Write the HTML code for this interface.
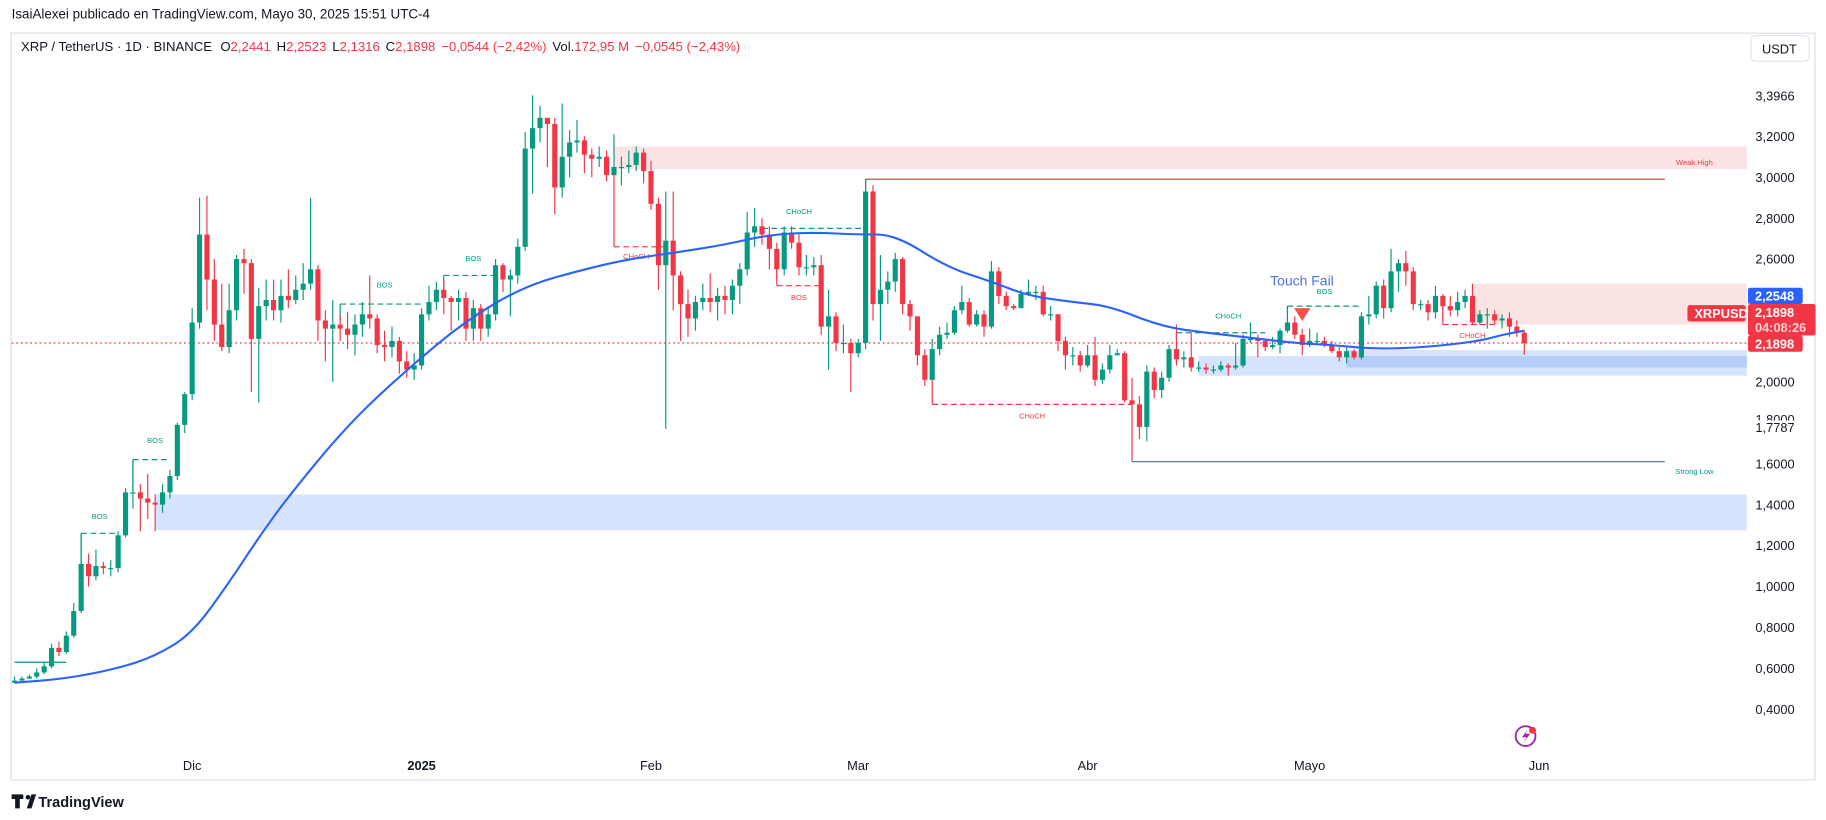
<!DOCTYPE html>
<html><head><meta charset="utf-8"><style>
html,body{margin:0;padding:0;background:#fff;}
svg{display:block;font-family:"Liberation Sans",sans-serif;}
</style></head><body>
<svg id="chart" width="1826" height="820" viewBox="0 0 1568 704" preserveAspectRatio="none" xmlns="http://www.w3.org/2000/svg">
<rect x="0" y="0" width="1568" height="704" fill="#ffffff"/>
<text x="10" y="16" font-size="11.5" fill="#131722">IsaiAlexei publicado en TradingView.com, Mayo 30, 2025 15:51 UTC-4</text>
<rect x="9.5" y="28.5" width="1549" height="641" fill="#fff" stroke="#e6e8ee" stroke-width="1.5"/>
<text x="18" y="44" font-size="11.3" fill="#131722">XRP / TetherUS · 1D · BINANCE <tspan dx="4">O</tspan><tspan fill="#f23645">2,2441</tspan><tspan dx="5">H</tspan><tspan fill="#f23645">2,2523</tspan><tspan dx="5">L</tspan><tspan fill="#f23645">2,1316</tspan><tspan dx="5">C</tspan><tspan fill="#f23645">2,1898</tspan><tspan dx="5" fill="#f23645">−0,0544 (−2,42%)</tspan><tspan dx="5">Vol.</tspan><tspan fill="#f23645">172,95 M</tspan><tspan dx="5" fill="#f23645">−0,0545 (−2,43%)</tspan></text>
<g><rect x="1503.5" y="30.5" width="50" height="22" rx="4" fill="#fff" stroke="#e0e3eb"/><text x="1528" y="46" font-size="11" text-anchor="middle" fill="#131722">USDT</text></g>
<g id="zones"></g>
<g id="marks"></g>
<g id="candles"></g>
<g id="ma"></g>
<g id="axis"></g>
<g><circle cx="1310" cy="632" r="8.5" fill="none" stroke="#9c27b0" stroke-width="1.6"/><path d="M1312 626 L1307 633 L1311 633 L1308 638 L1314 630 L1310 630 Z" fill="#9c27b0"/><circle cx="1316" cy="627" r="3" fill="#f23645"/></g>
<g><path d="M10 682 h10 v4 h-3 v8 h-4 v-8 h-3 z" fill="#131722"/><circle cx="24" cy="684.5" r="2" fill="#131722"/><path d="M23 694 l4 -12 h4 l-4 12 z" fill="#131722"/><text x="33" y="693" font-size="12.5" fill="#131722" font-weight="bold">TradingView</text></g>
</svg>
<script>
const closes=[0.54,0.55,0.56,0.58,0.61,0.70,0.68,0.76,0.88,1.11,1.05,1.10,1.09,1.09,1.25,1.46,1.46,1.43,1.41,1.40,1.46,1.54,1.79,1.94,
2.29,2.72,2.50,2.28,2.17,2.35,2.60,2.58,2.21,2.37,2.40,2.35,2.42,2.40,2.45,2.48,2.55,2.30,2.26,2.28,2.26,2.23,2.28,2.33,2.31,2.18,2.17,2.20,2.10,2.06,2.08,
2.33,2.39,2.45,2.41,2.39,2.41,2.26,2.36,2.26,2.33,2.57,2.50,2.52,2.66,3.14,3.24,3.29,3.26,2.95,3.10,3.17,3.18,3.11,3.09,3.10,3.01,3.05,3.05,3.06,3.12,3.03,
2.87,2.57,2.69,2.52,2.38,2.31,2.39,2.41,2.39,2.42,2.40,2.47,2.55,2.73,2.76,2.72,2.65,2.55,2.73,2.68,2.56,2.56,2.57,2.27,2.32,2.19,2.19,2.14,
2.19,2.93,2.38,2.45,2.49,2.60,2.38,2.32,2.13,2.01,2.16,2.23,2.24,2.35,2.39,2.28,2.33,2.27,2.54,2.42,2.37,2.36,2.43,2.44,2.44,2.33,2.33,2.20,2.13,2.13,2.08,
2.13,2.01,2.06,2.13,2.14,1.91,1.89,1.78,2.05,1.96,2.02,2.16,2.11,2.12,2.07,2.07,2.06,2.06,2.08,2.07,2.08,2.21,2.21,2.20,2.17,2.18,2.25,2.29,2.23,2.18,
2.20,2.20,2.18,2.15,2.12,2.15,2.12,2.32,2.33,2.47,2.36,2.54,2.58,2.54,2.38,2.38,2.34,2.42,2.37,2.35,2.39,2.42,2.29,2.33,2.33,2.30,2.31,2.27,2.24,2.1898];
const highs=[0.56,0.56,0.57,0.60,0.63,0.72,0.73,0.78,0.92,1.26,1.16,1.18,1.12,1.13,1.27,1.48,1.62,1.50,1.55,1.45,1.50,1.57,1.80,1.95,
2.36,2.90,2.91,2.60,2.48,2.48,2.62,2.65,2.60,2.46,2.50,2.50,2.50,2.55,2.52,2.58,2.90,2.57,2.35,2.40,2.33,2.34,2.33,2.39,2.52,2.33,2.25,2.27,2.22,2.15,2.14,
2.36,2.47,2.49,2.50,2.42,2.45,2.44,2.40,2.38,2.37,2.60,2.58,2.55,2.70,3.22,3.40,3.35,3.29,3.29,3.36,3.23,3.28,3.20,3.14,3.15,3.13,3.21,3.10,3.13,3.15,3.14,
3.08,2.90,2.93,2.93,2.54,2.45,2.42,2.48,2.53,2.46,2.47,2.50,2.58,2.83,2.85,2.80,2.76,2.68,2.76,2.76,2.72,2.62,2.61,2.62,2.45,2.34,2.28,2.21,
2.21,2.99,2.96,2.62,2.54,2.63,2.61,2.40,2.32,2.16,2.21,2.27,2.29,2.37,2.47,2.41,2.35,2.35,2.59,2.56,2.44,2.38,2.45,2.50,2.47,2.47,2.37,2.33,2.22,2.17,2.15,
2.18,2.22,2.09,2.18,2.16,2.15,2.02,1.93,2.08,2.07,2.05,2.18,2.28,2.15,2.24,2.10,2.09,2.08,2.10,2.09,2.19,2.23,2.29,2.23,2.21,2.22,2.26,2.37,2.32,2.26,
2.26,2.24,2.22,2.20,2.17,2.17,2.16,2.34,2.42,2.49,2.50,2.65,2.60,2.64,2.56,2.40,2.40,2.47,2.43,2.42,2.44,2.45,2.48,2.35,2.36,2.35,2.33,2.34,2.30,2.2523];
const lows=[0.53,0.54,0.55,0.55,0.57,0.60,0.66,0.67,0.75,0.87,1.00,1.03,1.06,1.05,1.07,1.24,1.38,1.27,1.33,1.27,1.36,1.43,1.52,1.75,
1.91,2.26,2.35,2.20,2.15,2.14,2.30,2.43,1.95,1.90,2.30,2.30,2.29,2.36,2.38,2.40,2.45,2.20,2.10,2.00,2.20,2.16,2.13,2.22,2.26,2.14,2.10,2.12,2.04,2.02,2.01,
2.06,2.30,2.35,2.33,2.25,2.30,2.20,2.20,2.20,2.22,2.30,2.44,2.32,2.48,2.64,2.92,3.17,3.05,2.82,2.90,3.00,3.12,3.02,3.00,3.05,2.98,3.01,2.96,3.02,3.03,2.97,
2.84,2.45,1.77,2.35,2.20,2.22,2.25,2.35,2.34,2.30,2.33,2.33,2.38,2.52,2.66,2.67,2.55,2.50,2.52,2.65,2.52,2.52,2.52,2.23,2.06,2.15,2.14,1.95,
2.12,2.16,2.30,2.20,2.38,2.44,2.33,2.25,2.08,1.98,2.01,2.13,2.21,2.23,2.33,2.27,2.27,2.22,2.26,2.38,2.35,2.35,2.36,2.42,2.40,2.32,2.30,2.15,2.06,2.08,2.05,
2.07,1.98,1.99,2.04,2.13,1.90,1.61,1.72,1.71,1.92,1.92,2.00,2.08,2.07,2.05,2.05,2.04,2.04,2.05,2.03,2.06,2.07,2.19,2.12,2.15,2.16,2.14,2.24,2.21,2.13,
2.17,2.18,2.17,2.14,2.10,2.09,2.11,2.11,2.28,2.31,2.31,2.34,2.44,2.47,2.35,2.35,2.30,2.31,2.30,2.32,2.32,2.36,2.28,2.28,2.26,2.28,2.26,2.22,2.22,2.1316];
const firstOpen=0.53;
const firstDay=-24;
const maDays=[-24,-17,-10,-5,0,5,9,13,21,29,37,45,53,59,65,72,78,84,90,95,102,108,113,119,124,131,137,142,149,154,160,167,174,177,180];
const maValues=[0.53,0.55,0.60,0.66,0.77,1.02,1.24,1.44,1.79,2.06,2.30,2.47,2.55,2.60,2.63,2.67,2.72,2.73,2.72,2.72,2.56,2.49,2.42,2.39,2.37,2.27,2.24,2.22,2.19,2.18,2.16,2.17,2.20,2.23,2.25];
const yTicks=[3.2,3.0,2.8,2.6,2.0,1.6,1.4,1.2,1.0,0.8,0.6,0.4];
const yTickLabels=["3,2000","3,0000","2,8000","2,6000","2,0000","1,6000","1,4000","1,2000","1,0000","0,8000","0,6000","0,4000"];
const xTickDays=[0,31,62,90,121,151,182];
const xTickLabels=["Dic","2025","Feb","Mar","Abr","Mayo","Jun"];
const lastPrice=2.1898, prevHighPrice=2.2548, topPrice=3.3966, lowPrice2=1.7787;

const NS="http://www.w3.org/2000/svg";
const X=d=>165+d*6.355;
const Y=p=>117+(3.2-p)*175.7;
function mk(parent,tag,attrs){const e=document.createElementNS(NS,tag);for(const k in attrs)e.setAttribute(k,attrs[k]);document.getElementById(parent).appendChild(e);return e;}
const PR=1500;
const G="#089981",R="#f23645";

let z;
z=mk('zones','rect',{x:X(57),y:Y(3.15),width:PR-X(57),height:Y(3.04)-Y(3.15),fill:'#fce3e4'});


z=mk('zones','rect',{x:X(173),y:Y(2.48),width:PR-X(173),height:Y(2.28)-Y(2.48),fill:'#fce3e4'});


z=mk('zones','rect',{x:X(136),y:Y(2.126),width:PR-X(136),height:Y(2.03)-Y(2.126),fill:'#d6e3fc'});


z=mk('zones','rect',{x:X(156),y:Y(2.155),width:PR-X(156),height:Y(2.07)-Y(2.155),fill:'#d6e3fc'});


z=mk('zones','rect',{x:X(156),y:Y(2.126),width:PR-X(156),height:Y(2.07)-Y(2.126),fill:'#b6cdf8'});


z=mk('zones','rect',{x:X(-5),y:Y(1.45),width:PR-X(-5),height:Y(1.275)-Y(1.45),fill:'#d6e3fc'});



function hline(name,d1,d2,p,color,dash,label,lx,ly,vd,vp){
  const g=document.createElementNS(NS,'g');
  
  
  document.getElementById('marks').appendChild(g);
  const l=document.createElementNS(NS,'line');
  l.setAttribute('x1',X(d1));l.setAttribute('x2',X(d2));l.setAttribute('y1',Y(p));l.setAttribute('y2',Y(p));
  l.setAttribute('stroke',color);l.setAttribute('stroke-width','1');if(dash)l.setAttribute('stroke-dasharray','5,3');
  g.appendChild(l);
  if(vp!==undefined){const v=document.createElementNS(NS,'line');v.setAttribute('x1',X(d1));v.setAttribute('x2',X(d1));v.setAttribute('y1',Y(p));v.setAttribute('y2',Y(vp));v.setAttribute('stroke',color);v.setAttribute('stroke-width','1');g.appendChild(v);}
  if(label){const t=document.createElementNS(NS,'text');t.setAttribute('x',lx);t.setAttribute('y',ly);t.setAttribute('font-size','6.5');t.setAttribute('fill',color);t.setAttribute('text-anchor','middle');t.textContent=label;g.appendChild(t);}
}
hline('bos-line-1',-24,-17,0.63,G,false,'',0,0);
hline('bos-line-2',-15,-10,1.26,G,true,'BOS',X(-12.5),Y(1.33),-15,1.11);
hline('bos-line-3',-8,-3,1.62,G,true,'BOS',X(-5),Y(1.70),-8,1.46);
hline('bos-line-4',20,31,2.38,G,true,'BOS',X(26),Y(2.46),20,2.30);
hline('bos-line-5',34,41,2.52,G,true,'BOS',X(38),Y(2.59),34,2.45);
hline('choch-line-1',57,64,2.66,R,true,'CHoCH',X(60),Y(2.60),57,3.05);
hline('choch-line-2',77,91,2.75,G,true,'CHoCH',X(82),Y(2.82));
hline('bos-line-6',79,85,2.47,R,true,'BOS',X(82),Y(2.40),79,2.55);
hline('choch-line-3',100,127,1.89,R,true,'CHoCH',X(113.5),Y(1.82),100,2.01);
hline('choch-line-4',133,145,2.24,G,true,'CHoCH',X(140),Y(2.31),145,2.21);
hline('bos-line-7',148,158,2.37,G,true,'BOS',X(153),Y(2.43),148,2.29);
hline('choch-line-5',169,176,2.28,R,true,'CHoCH',X(173),Y(2.215),169,2.37);
hline('weak-high-line',91,199,2.99,R,false,'Weak High',1455,Y(3.06),91,2.93);
hline('strong-low-line',127,199,1.61,G,false,'Strong Low',1455,Y(1.55));
let lp=mk('marks','line',{x1:10,x2:PR,y1:Y(lastPrice),y2:Y(lastPrice),stroke:R,'stroke-width':1,'stroke-dasharray':'1.5,2.5'});


let tf=mk('marks','text',{x:1118,y:245,'font-size':12,fill:'#4f72e3','text-anchor':'middle'});
tf.textContent='Touch Fail';


let tri=mk('marks','path',{d:`M${X(150)-7} ${Y(2.36)} h14 l-7 11 z`,fill:'#f4524d'});



let prev=firstOpen;
for(let i=0;i<closes.length;i++){
  const d=firstDay+i,o=prev,c=closes[i],h=highs[i],l=lows[i];
  const col=c>=o?G:R,x=X(d);
  const g=document.createElementNS(NS,'g');
  
  
  const w=document.createElementNS(NS,'line');
  w.setAttribute('x1',x);w.setAttribute('x2',x);w.setAttribute('y1',Y(h));w.setAttribute('y2',Y(l));w.setAttribute('stroke',col);w.setAttribute('stroke-width','1');
  g.appendChild(w);
  const b=document.createElementNS(NS,'rect');
  const top=Y(Math.max(o,c)),bh=Math.max(1,Math.abs(Y(o)-Y(c)));
  b.setAttribute('x',x-2.2);b.setAttribute('y',top);b.setAttribute('width',4.4);b.setAttribute('height',bh);b.setAttribute('fill',col);
  g.appendChild(b);
  document.getElementById('candles').appendChild(g);
  prev=c;
}
let pts=maDays.map((d,i)=>[X(d),Y(maValues[i])]);
let dstr='M'+pts[0][0]+' '+pts[0][1];
for(let i=1;i<pts.length;i++){const p0=pts[i-1],p1=pts[i];const mx=(p0[0]+p1[0])/2;dstr+=` Q${p0[0]} ${p0[1]} ${mx} ${(p0[1]+p1[1])/2}`;}
dstr+=` L${pts[pts.length-1][0]} ${pts[pts.length-1][1]}`;
let ma=mk('ma','path',{d:dstr,fill:'none',stroke:'#2962ff','stroke-width':1.8});



yTicks.forEach((p,i)=>{
  const t=mk('axis','text',{x:1541,y:Y(p)+4,'font-size':11,fill:'#131722','text-anchor':'end'});
  t.textContent=yTickLabels[i];
  
  
});
let tt=mk('axis','text',{x:1541,y:Y(topPrice)+4,'font-size':11,fill:'#131722','text-anchor':'end'});
tt.textContent='3,3966';


let t8=mk('axis','text',{x:1541,y:Y(1.8)+1,'font-size':11,fill:'#131722','text-anchor':'end'});
t8.textContent='1,8000';


let wb=mk('axis','rect',{x:1500,y:Y(1.8)-2,width:50,height:6,fill:'#fff'});


let t7=mk('axis','text',{x:1541,y:Y(lowPrice2)+4,'font-size':11,fill:'#131722','text-anchor':'end'});
t7.textContent='1,7787';


xTickDays.forEach((d,i)=>{
  const t=mk('axis','text',{x:X(d),y:661,'font-size':11,fill:'#131722','text-anchor':'middle','font-weight':i==1?'bold':'normal'});
  t.textContent=xTickLabels[i];
  
  
});
function badge(name,x,y,w,h,fill,lines){
  const g=document.createElementNS(NS,'g');
  
  
  document.getElementById('axis').appendChild(g);
  const r=document.createElementNS(NS,'rect');r.setAttribute('x',x);r.setAttribute('y',y);r.setAttribute('width',w);r.setAttribute('height',h);r.setAttribute('rx',2);r.setAttribute('fill',fill);g.appendChild(r);
  lines.forEach((s,i)=>{const t=document.createElementNS(NS,'text');t.setAttribute('x',x+6);t.setAttribute('y',y+11+i*13);t.setAttribute('font-size',11);t.setAttribute('fill',i==1?'#ffd3d6':'#fff');t.setAttribute('font-weight','bold');t.textContent=s;g.appendChild(t);});
}
badge('prev-high-badge',1501,247,47,14,'#2962ff',['2,2548']);
badge('symbol-badge',1449,262,50,14,R,['XRPUSDT']);
badge('last-price-badge',1501,261,58,27,R,['2,1898','04:08:26']);
badge('close-badge',1501,288,47,14,R,['2,1898']);
</script>
</body></html>
